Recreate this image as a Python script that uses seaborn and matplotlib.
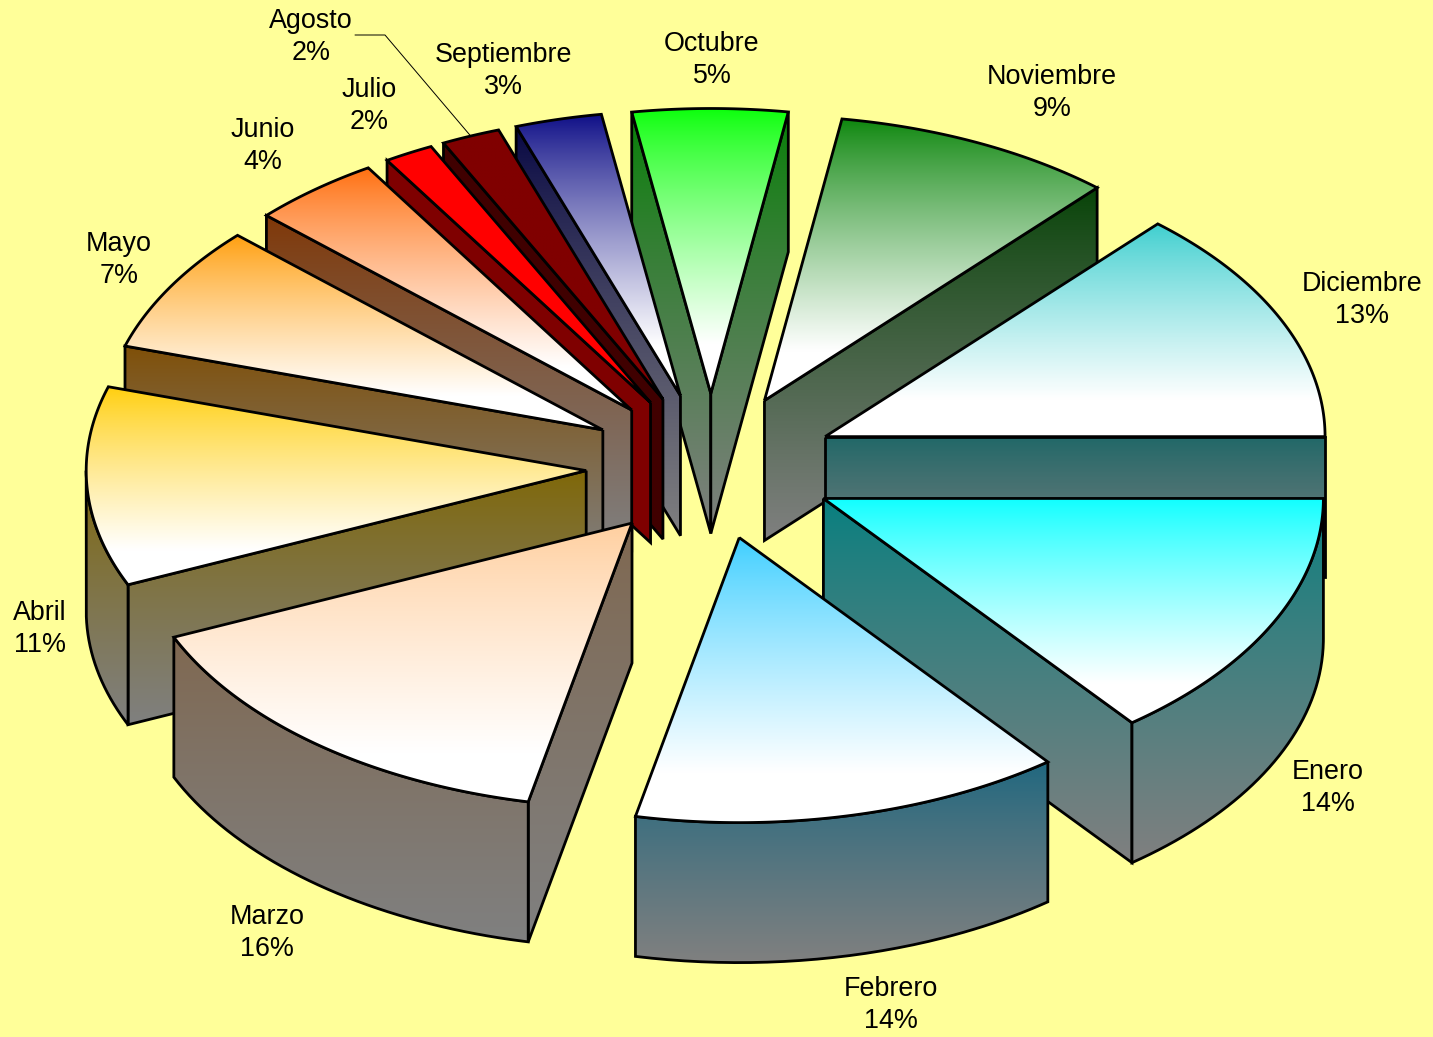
import numpy as np
import seaborn as sns
import matplotlib
matplotlib.use("Agg")
import matplotlib.pyplot as plt
from matplotlib.path import Path
from matplotlib.patches import PathPatch

# months in pie order, clockwise from 3 o'clock
months = ["Enero", "Febrero", "Marzo", "Abril", "Mayo", "Junio", "Julio",
          "Agosto", "Septiembre", "Octubre", "Noviembre", "Diciembre"]
shares = [14.4, 13.9, 15.1, 11.3, 7.2, 4.2, 1.6, 1.9, 2.8, 5.0, 9.1, 13.4]
pct_labels = ["14%", "14%", "16%", "11%", "7%", "4%", "2%", "2%", "3%", "5%", "9%", "13%"]
top_colors = ["#00FFFF", "#33CCFF", "#FFCC99", "#FFCC00", "#FF9900", "#FF6600",
              "#FF0000", "#800000", "#000080", "#00FF00", "#008000", "#33CCCC"]
solid_months = ["Julio", "Agosto"]

# label centres, same order as months
label_x = [1328, 891, 267, 40, 119, 263, 369, 311, 503, 712, 1052, 1362]
label_y = [788, 1005, 933, 629, 260, 146, 106, 37, 71, 60, 93, 300]

# pie geometry, in image pixels
CX, CY = 711, 466.5
RX, RY = 500, 285
EX, EY = 125, 73
DEPTH = 140
BG = "#FFFF99"
GREY = np.array([128, 128, 128]) / 255

sns.set_theme(style="white", rc={"figure.facecolor": BG, "axes.facecolor": BG})
plt.rcParams["font.family"] = ["Liberation Sans", "DejaVu Sans"]
palette = sns.color_palette(top_colors)

fig = plt.figure(figsize=(14.33, 10.37), dpi=100)
ax = fig.add_axes([0, 0, 1, 1])
ax.set_axis_off()


def gradient_poly(pts, c_top, c_bot, z, gain=0.95):
    pts = np.asarray(pts)
    closed = np.vstack([pts, pts[:1]])
    patch = PathPatch(Path(closed), fc="none", ec="black", lw=2.0, joinstyle="miter", zorder=z + 0.5)
    ax.add_patch(patch)
    # the fade starts a little way in and runs faster near the top
    t = np.clip(0.05 + gain * np.linspace(0, 1, 256) ** 0.85, 0, 1)
    t = t[:, None, None]
    img = (1 - t) * np.array(c_top)[None, None, :] + t * np.array(c_bot)[None, None, :]
    x0, x1 = pts[:, 0].min(), pts[:, 0].max()
    y0, y1 = pts[:, 1].min(), pts[:, 1].max()
    im = ax.imshow(img, extent=[x0, x1, y1, y0], aspect="auto", interpolation="bilinear", zorder=z)
    im.set_clip_path(patch)


def rim_point(deg, apex):
    return apex + np.array([RX * np.cos(np.radians(deg)), RY * np.sin(np.radians(deg))])


edges = np.concatenate([[0], np.cumsum(shares)]) / np.sum(shares) * 360
slices = []
for i, m in enumerate(months):
    a0, a1 = edges[i], edges[i + 1]
    mid = np.radians((a0 + a1) / 2)
    apex = np.array([CX + EX * np.cos(mid), CY + EY * np.sin(mid)])
    slices.append((np.sin(mid), i, a0, a1, apex))

# back slices first so the front ones paint over them
z = 2
down = np.array([0, DEPTH])
for _, i, a0, a1, apex in sorted(slices, key=lambda s: s[0]):
    top = np.array(palette[i])
    shade = top * 0.5
    solid = months[i] in solid_months
    wall_end = shade if solid else GREY
    top_end = top if solid else np.array([1.0, 1.0, 1.0])

    # straight walls, only when they face the viewer
    for deg, normal in ((a0, a0 - 90), (a1, a1 + 90)):
        if np.sin(np.radians(normal)) > 0:
            p = rim_point(deg, apex)
            gradient_poly([apex, p, p + down, apex + down], shade, wall_end, z)
            z += 1

    # outer rim, front half of the arc only
    lo, hi = a0, a1
    for start, stop in ((0, 180), (360, 540)):
        s, e = max(lo, start), min(hi, stop)
        if e > s:
            arc = np.array([rim_point(d, apex) for d in np.linspace(s, e, 80)])
            gradient_poly(np.vstack([arc, arc[::-1] + down]), shade, wall_end, z)
            z += 1

    # top face, goes fully white before the bottom of the slice
    arc = np.array([rim_point(d, apex) for d in np.linspace(a0, a1, 120)])
    gradient_poly(np.vstack([apex, arc]), top, top_end, z, gain=1.12)
    z += 1

for m, pct, x, y in zip(months, pct_labels, label_x, label_y):
    ax.text(x, y, m + "\n" + pct, ha="center", va="center", fontsize=19.4,
            color="black", linespacing=1.34, zorder=z + 1)

# leader line for Agosto, ends on the rim of its slice
ago = slices[months.index("Agosto")]
tip = rim_point((ago[2] + ago[3]) / 2, ago[4])
ax.plot([355, 385, tip[0]], [35, 35, tip[1]], color="black", lw=0.7, zorder=z + 1)

ax.set_xlim(0, 1433)
ax.set_ylim(1037, 0)
fig.savefig("out.png", dpi=100, facecolor=BG)
